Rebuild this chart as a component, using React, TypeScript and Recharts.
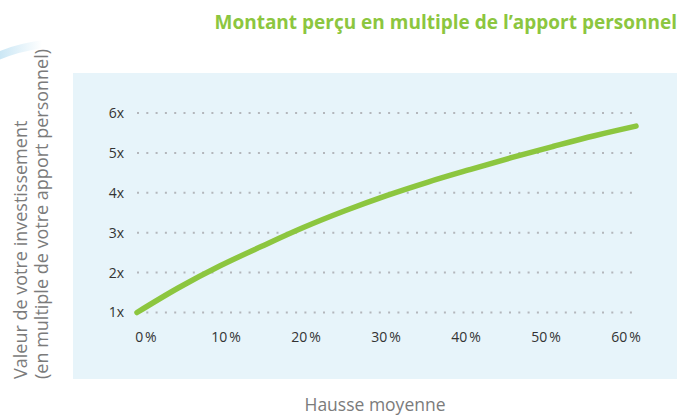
import { CartesianGrid, Line, LineChart, XAxis, YAxis } from "recharts";

// hausse moyenne (%) and resulting multiple of the personal contribution
const growthPct = [0, 5, 10, 15, 20, 25, 30, 35, 40, 45, 50, 55, 60];
const multiple = [1.0, 1.62, 2.17, 2.66, 3.13, 3.55, 3.93, 4.27, 4.58, 4.88, 5.16, 5.43, 5.67];

const xTicks = [0, 10, 20, 30, 40, 50, 60];
const yTicks = [1, 2, 3, 4, 5, 6];

const title = "Montant perçu en multiple de l’apport personnel";
const yTitle = ["Valeur de votre investissement", "(en multiple de votre apport personnel)"];
const xTitle = "Hausse moyenne";

const data = growthPct.map((pct, i) => ({ pct, value: multiple[i] }));

const FONT = "'Open Sans', 'Noto Sans', sans-serif";
const GREEN = "#8cc63f";

export default function App() {
  return (
    <div style={{ position: "relative", width: 681, height: 416, background: "#fff", fontFamily: FONT }}>
      <style>{"body{margin:0}"}</style>

      {/* light blue panel behind the plot */}
      <div
        style={{
          position: "absolute",
          left: 73,
          top: 73,
          width: 604,
          height: 306,
          background: "#e7f4fa",
        }}
      />

      <svg width={681} height={416} style={{ position: "absolute", left: 0, top: 0 }}>
        <defs>
          <linearGradient id="arcFade" gradientUnits="userSpaceOnUse" x1="0" y1="0" x2="42" y2="0">
            <stop offset="0%" stopColor="#cbe7f5" />
            <stop offset="100%" stopColor="#cbe7f5" stopOpacity={0} />
          </linearGradient>
        </defs>
        <path d="M -6 58 Q 14 48 44 44" fill="none" stroke="url(#arcFade)" strokeWidth={8} />

        <text x={677} y={29} textAnchor="end" fill={GREEN} fontSize={19} fontWeight={700} fontFamily={FONT}>
          {title}
        </text>

        <text transform="translate(27 379) rotate(-90)" fill="#7b7b7b" fontSize={18} fontFamily={FONT}>
          {yTitle[0]}
        </text>
        <text transform="translate(47.5 379) rotate(-90)" fill="#7b7b7b" fontSize={18} fontFamily={FONT}>
          {yTitle[1]}
        </text>

        <text x={375} y={411} textAnchor="middle" fill="#7b7b7b" fontSize={17.5} fontFamily={FONT}>
          {xTitle}
        </text>
      </svg>

      <div style={{ position: "absolute", left: 0, top: 0 }}>
        <LineChart
          width={681}
          height={416}
          data={data}
          margin={{ top: 113, right: 45, bottom: 73.5, left: 97 }}
        >
          <CartesianGrid
            vertical={false}
            stroke="#b3b6bb"
            strokeWidth={2}
            strokeDasharray="2 7.3"
          />
          <XAxis dataKey="pct" type="number" domain={[0, 60]} height={0} hide />
          <XAxis
            xAxisId="labels"
            dataKey="pct"
            type="number"
            domain={[0, 60]}
            ticks={xTicks}
            allowDataOverflow
            padding={{ left: 9, right: 10 }}
            height={30}
            axisLine={false}
            tickLine={false}
            tickMargin={14}
            tick={{ fill: "#333", fontSize: 14, fontFamily: FONT }}
            tickFormatter={(v) => `${v}\u202F%`}
          />
          <YAxis
            type="number"
            domain={[1, 6]}
            ticks={yTicks}
            width={40}
            axisLine={false}
            tickLine={false}
            tickMargin={7}
            tick={{ fill: "#333", fontSize: 14, fontFamily: FONT }}
            tickFormatter={(v) => `${v}x`}
          />
          <Line
            type="monotone"
            dataKey="value"
            stroke={GREEN}
            strokeWidth={5.5}
            strokeLinecap="round"
            dot={false}
            activeDot={false}
            isAnimationActive={false}
          />
        </LineChart>
      </div>
    </div>
  );
}
